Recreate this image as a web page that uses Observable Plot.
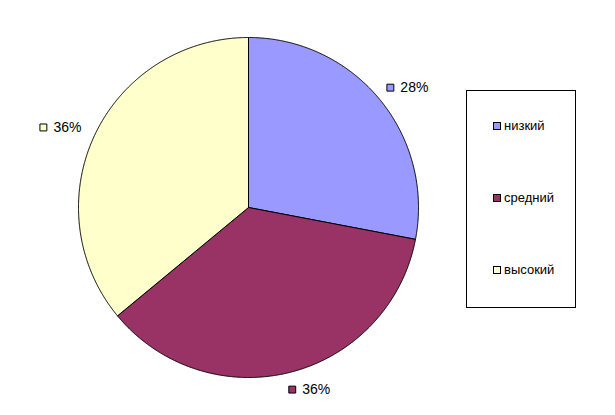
<!DOCTYPE html>
<html><head><meta charset="utf-8">
<script src="https://cdn.jsdelivr.net/npm/d3@7"></script>
<script src="https://cdn.jsdelivr.net/npm/@observablehq/plot@0.6"></script>
<style>
body{margin:0;background:#fff;font-family:"Liberation Sans",Arial,sans-serif;}
#wrap{position:relative;width:615px;height:415px;}
#legend{position:absolute;left:466px;top:90px;width:108px;height:216px;border:1px solid #000;background:#fff;box-sizing:content-box;}
.item{position:absolute;left:26px;font-size:13px;line-height:14px;color:#000;white-space:nowrap;}
.sw{display:inline-block;width:6px;height:6px;border:1px solid #000;margin-right:3px;vertical-align:0px;}
</style></head>
<body><div id="wrap"></div>
<script>
const categories = ["низкий", "средний", "высокий"];
const values = [28, 36, 36];
const colors = ["#9999FF", "#993366", "#FFFFCC"];
const labels = ["28%", "36%", "36%"];

const W = 615, H = 415, cx = 248, cy = 207, R = 170;
const arcs = d3.pie().sort(null).value(d => d.v)(categories.map((c, i) => ({c, v: values[i], l: labels[i]})));

const poly = [];
arcs.forEach(a => {
  poly.push({c: a.data.c, x: cx, y: cy});
  const n = Math.max(2, Math.ceil((a.endAngle - a.startAngle) / 0.005));
  for (let k = 0; k <= n; k++) {
    const t = a.startAngle + (a.endAngle - a.startAngle) * k / n;
    poly.push({c: a.data.c, x: cx + R * Math.sin(t), y: cy - R * Math.cos(t)});
  }
  poly.push({c: a.data.c, x: cx, y: cy});
});

const lab = arcs.map(a => {
  const m = (a.startAngle + a.endAngle) / 2;
  const ux = Math.sin(m), uy = -Math.cos(m);
  return {c: a.data.c, l: a.data.l, x: cx + 188 * ux + 16 * Math.sign(ux), y: cy + 188 * uy};
});

const chart = Plot.plot({
  width: W, height: H, margin: 0,
  x: {domain: [0, W], range: [0, W], axis: null},
  y: {domain: [0, H], range: [0, H], axis: null},
  color: {domain: categories, range: colors},
  style: {fontFamily: "'Liberation Sans', Arial, sans-serif", background: "#fff"},
  marks: [
    Plot.line(poly, {x: "x", y: "y", z: "c", fill: "c", stroke: "#000", strokeWidth: 1, curve: "linear"}),
    Plot.dot(lab, {x: d => d.x - 19, y: "y", symbol: "square", r: 3.9, fill: "c", stroke: "#000", strokeWidth: 1}),
    Plot.text(lab, {x: d => d.x - 9, y: "y", text: "l", textAnchor: "start", fontSize: 14, fill: "#000"})
  ]
});
const wrap = document.getElementById("wrap");
wrap.appendChild(chart);

const leg = document.createElement("div");
leg.id = "legend";
categories.forEach((c, i) => {
  const it = document.createElement("div");
  it.className = "item";
  it.style.top = (28 + i * 72) + "px";
  const sw = document.createElement("span");
  sw.className = "sw";
  sw.style.background = colors[i];
  it.appendChild(sw);
  it.appendChild(document.createTextNode(c));
  leg.appendChild(it);
});
wrap.appendChild(leg);
</script></body></html>
